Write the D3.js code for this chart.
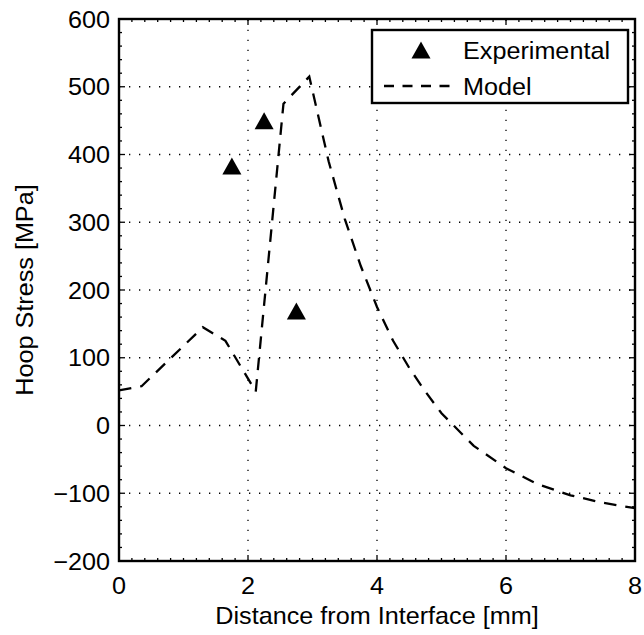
<!DOCTYPE html>
<html>
<head>
<meta charset="utf-8">
<script src="https://cdn.jsdelivr.net/npm/d3@7"></script>
<style>
  body { margin: 0; background: #fff; }
  text { font-family: "Liberation Sans", Arial, Helvetica, sans-serif; fill: #000; }
</style>
</head>
<body>
<div id="chart"></div>
<script>
// experimental points
var expX = [1.75, 2.25, 2.75];
var expY = [383, 450, 169];

// model curve
var modelX = [0, 0.35, 1.3, 1.65, 2.12, 2.55, 2.95, 3.25, 3.5, 3.75, 4.0, 4.25, 4.5, 4.75, 5.0, 5.5, 6.0, 6.5, 7.0, 7.5, 8.0];
var modelY = [52, 58, 145, 125, 50, 475, 515, 390, 305, 235, 175, 125, 85, 50, 18, -30, -63, -87, -103, -114, -122];

var xTicks = [0, 2, 4, 6, 8];
var yTicks = [-200, -100, 0, 100, 200, 300, 400, 500, 600];
var legendLabels = ["Experimental", "Model"];

var width = 644, height = 635;
var margin = {left: 119, right: 9, top: 19, bottom: 74};
var plotW = width - margin.left - margin.right;
var plotH = height - margin.top - margin.bottom;
var fontSize = 24, stretch = 1.05;

var svg = d3.select("#chart").append("svg")
    .attr("width", width)
    .attr("height", height);

var x = d3.scaleLinear().domain([0, 8]).range([margin.left, margin.left + plotW]);
var y = d3.scaleLinear().domain([-200, 600]).range([margin.top + plotH, margin.top]);

// text helper, text in the reference is a bit wide
function label(g, px, py, str, anchor, rot) {
    return g.append("text")
        .attr("transform", "translate(" + px + "," + py + ")" + (rot ? " rotate(" + rot + ")" : "") + " scale(" + stretch + ",1)")
        .style("font-size", fontSize + "px")
        .style("text-anchor", anchor)
        .text(str);
}

// grid
var grid = svg.append("g");
grid.selectAll(".gx").data(xTicks.slice(1, -1)).enter().append("line")
    .attr("x1", function (d) { return x(d); }).attr("x2", function (d) { return x(d); })
    .attr("y1", y(-200)).attr("y2", y(600))
    .attr("stroke", "#000").attr("stroke-width", 1.3).attr("stroke-dasharray", "1.3,8.7");
grid.selectAll(".gy").data(yTicks.slice(1, -1)).enter().append("line")
    .attr("y1", function (d) { return y(d); }).attr("y2", function (d) { return y(d); })
    .attr("x1", x(0)).attr("x2", x(8))
    .attr("stroke", "#000").attr("stroke-width", 1.3).attr("stroke-dasharray", "1.3,8.7");

// minor and major ticks, inside, on all four sides
var ticks = svg.append("g").attr("stroke", "#000").attr("stroke-width", 1.3);
d3.range(0, 8.001, 0.2).forEach(function (v) {
    var len = Math.abs(v / 2 - Math.round(v / 2)) < 0.01 ? 6 : 3;
    ticks.append("line").attr("x1", x(v)).attr("x2", x(v)).attr("y1", y(-200)).attr("y2", y(-200) - len);
    ticks.append("line").attr("x1", x(v)).attr("x2", x(v)).attr("y1", y(600)).attr("y2", y(600) + len);
});
d3.range(-200, 600.001, 20).forEach(function (v) {
    var len = v % 100 === 0 ? 6 : 3;
    ticks.append("line").attr("y1", y(v)).attr("y2", y(v)).attr("x1", x(0)).attr("x2", x(0) + len);
    ticks.append("line").attr("y1", y(v)).attr("y2", y(v)).attr("x1", x(8)).attr("x2", x(8) - len);
});

// model line
var line = d3.line()
    .x(function (d, i) { return x(modelX[i]); })
    .y(function (d, i) { return y(modelY[i]); });
svg.append("path")
    .attr("d", line(modelX))
    .attr("fill", "none")
    .attr("stroke", "#000")
    .attr("stroke-width", 2.3)
    .attr("stroke-dasharray", "12.5,9");

// triangles
function tri(cx, cy) {
    return "M" + cx + "," + (cy - 8.5) + "L" + (cx + 9.5) + "," + (cy + 8.5) + "L" + (cx - 9.5) + "," + (cy + 8.5) + "Z";
}
svg.selectAll(".exp").data(expX).enter().append("path")
    .attr("class", "exp")
    .attr("d", function (d, i) { return tri(x(d), y(expY[i])); })
    .attr("fill", "#000");

// box
svg.append("rect")
    .attr("x", x(0)).attr("y", y(600))
    .attr("width", plotW).attr("height", plotH)
    .attr("fill", "none").attr("stroke", "#000").attr("stroke-width", 2.4);

// tick labels
var fmt = d3.format("d");
xTicks.forEach(function (v) { label(svg, x(v), 594, fmt(v), "middle"); });
yTicks.forEach(function (v) { label(svg, 110, y(v) + 8.5, fmt(v), "end"); });

// axis titles
label(svg, x(4), 624, "Distance from Interface [mm]", "middle");
label(svg, 33, y(200), "Hoop Stress [MPa]", "middle", -90);

// legend
var lg = svg.append("g");
lg.append("rect")
    .attr("x", 372).attr("y", 30).attr("width", 256).attr("height", 73)
    .attr("fill", "#fff").attr("stroke", "#000").attr("stroke-width", 2.4);
lg.append("path").attr("d", tri(421, 50)).attr("fill", "#000");
lg.append("line")
    .attr("x1", 384).attr("x2", 452).attr("y1", 86).attr("y2", 86)
    .attr("stroke", "#000").attr("stroke-width", 2.3).attr("stroke-dasharray", "10,8.5");
label(lg, 463, 58.5, legendLabels[0], "start");
label(lg, 463, 94.5, legendLabels[1], "start");
</script>
</body>
</html>
